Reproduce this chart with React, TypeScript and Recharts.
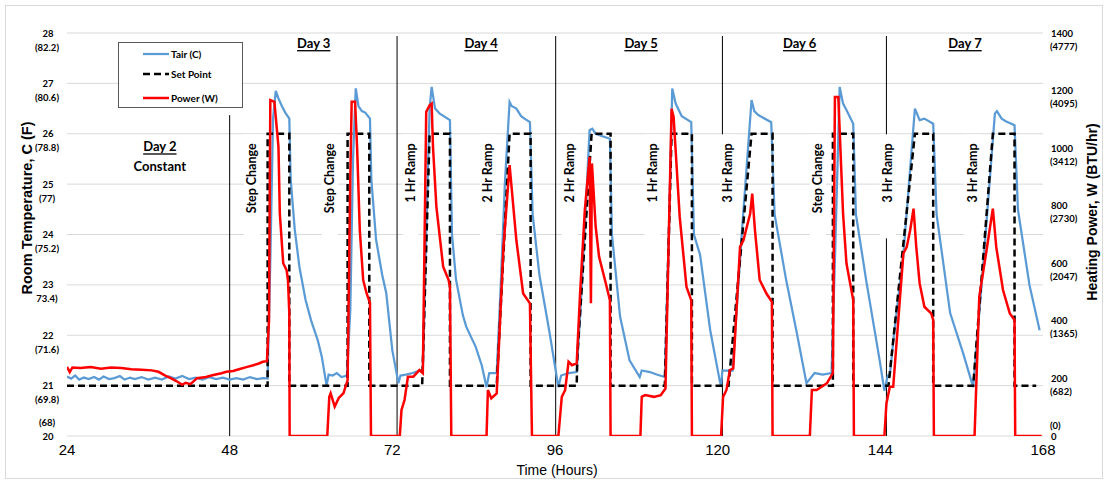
import React from 'react';
import { LineChart, Line, XAxis, YAxis, CartesianGrid, ReferenceLine, ReferenceDot, Legend } from 'recharts';

// ---------- ticks ----------
const hourTicks = [24, 48, 72, 96, 120, 144, 168];
const tempTicks = [20, 21, 22, 23, 24, 25, 26, 27, 28];
const tempTickF = ['(68)', '(69.8)', '(71.6)', '73.4)', '(75.2)', '(77)', '(78.8)', '(80.6)', '(82.2)'];
const powerTicks = [0, 200, 400, 600, 800, 1000, 1200, 1400];
const powerTickBtu = ['(0)', '(682)', '(1365)', '(2047)', '(2730)', '(3412)', '(4095)', '(4777)'];
const legendOrder = ['Tair (C)', 'Set Point', 'Power (W)'];

// ---------- annotations ----------
const dayBoundaries = [48, 72.7, 96.1, 120.7, 144.9];
const dayLineTops = [26.37, 27.94, 27.94, 27.94, 27.94];
const dayNames = ['Day 3', 'Day 4', 'Day 5', 'Day 6', 'Day 7'];
const dayNameHours = [60.4, 85.1, 108.7, 132.1, 156.5];
const eventNames = ['Step Change', 'Step Change', '1 Hr Ramp', '2 Hr Ramp', '2 Hr Ramp', '1 Hr Ramp', '3 Hr Ramp', 'Step Change', '3 Hr Ramp', '3 Hr Ramp'];
const eventHours = [51.3, 62.8, 74.7, 86.1, 98.2, 110.4, 121.5, 134.8, 145.1, 157.6];

// ---------- series: [hour, value] ----------
const setPointPts: [number, number][] = [
  [24, 21], [53.6, 21], [53.6, 26], [56.8, 26], [56.8, 21], [65.4, 21], [65.4, 26], [68.6, 26], [68.6, 21],
  [76.4, 21], [77.5, 26], [80.5, 26], [80.5, 21], [87.4, 21], [89.3, 26], [92.4, 26], [92.4, 21],
  [99.2, 21], [99.3, 21.6], [101.4, 26], [104.2, 26], [104.2, 21], [112.2, 21], [113.2, 26], [116.2, 26], [116.2, 21],
  [121.6, 21], [125.0, 26], [128.1, 26], [128.1, 21], [137.0, 21], [137.0, 26], [140.0, 26], [140.0, 21],
  [145.2, 21], [149.1, 26], [151.8, 26], [151.8, 21], [157.7, 21], [160.6, 26], [163.8, 26], [163.8, 21], [167.0, 21],
];

const tairPts: [number, number][] = [
  [24, 21.18], [24.6, 21.14], [25.2, 21.2], [25.8, 21.12], [26.5, 21.16], [27.2, 21.13], [28, 21.17], [28.7, 21.12],
  [29.4, 21.18], [30.2, 21.13], [31, 21.15], [31.8, 21.19], [32.5, 21.12], [33.3, 21.16], [34, 21.13], [35, 21.17],
  [36, 21.12], [37, 21.16], [38, 21.12], [39, 21.18], [40, 21.14], [41, 21.19], [42, 21.13], [43, 21.16], [44, 21.12],
  [45, 21.17], [46, 21.13], [47, 21.16], [48, 21.12], [49, 21.15], [50, 21.12], [51, 21.17], [52, 21.13], [53, 21.15],
  [53.6, 21.14], [54.0, 23.5], [54.4, 26.3], [54.8, 26.85], [55.2, 26.7], [55.7, 26.55], [56.2, 26.42], [56.8, 26.3],
  [57.0, 25.1], [57.6, 24.1], [58.3, 23.35], [59.2, 22.7], [60.0, 22.3], [61.0, 21.9], [61.6, 21.57], [62.3, 21.0],
  [62.6, 21.22], [63.2, 21.2], [63.8, 21.25], [64.5, 21.17], [65.3, 21.2], [65.8, 22.5], [66.2, 25.5], [66.6, 26.9],
  [67.0, 26.55], [67.5, 26.45], [68.0, 26.42], [68.7, 26.3], [68.9, 25.1], [69.6, 23.9], [70.5, 23.2], [71.1, 22.84],
  [72.0, 21.7], [72.9, 21.05], [73.2, 21.2], [74, 21.22], [75, 21.25], [76, 21.3], [76.5, 21.3], [77.0, 24],
  [77.5, 26.5], [77.8, 26.93], [78.3, 26.5], [79, 26.4], [80.5, 26.27], [80.8, 24.0], [81.4, 23.1], [82.4, 22.4],
  [82.9, 22.17], [84.3, 21.77], [85.2, 21.4], [85.9, 20.97], [86.3, 21.25], [87.4, 21.25], [88.0, 23.0], [88.6, 25.0],
  [89.3, 26.63], [89.6, 26.55], [90.3, 26.5], [91, 26.35], [91.5, 26.3], [92.3, 26.23], [92.7, 24.4], [93.7, 23.2],
  [95.2, 22.05], [96.5, 20.97], [96.9, 21.2], [98, 21.25], [99.2, 21.27], [99.8, 22.6], [100.5, 24.4], [101.1, 26.07],
  [101.5, 26.1], [102, 26.0], [103, 25.95], [104.1, 25.9], [104.4, 24.0], [105.6, 22.37], [107.0, 21.5], [108.5, 21.17],
  [108.8, 21.3], [110, 21.27], [111, 21.22], [112.2, 21.17], [112.8, 24], [113.3, 26.9], [113.8, 26.6], [114.7, 26.35],
  [116.1, 26.23], [116.5, 24.0], [117.4, 23.6], [118.9, 22.1], [120.3, 21.1], [120.5, 21.0], [120.7, 21.3], [122.2, 21.3],
  [123.6, 24.1], [125.0, 26.67], [125.4, 26.45], [126.0, 26.37], [127.9, 26.23], [128.4, 24.4], [130.1, 23.1],
  [131.6, 22.1], [133.1, 21.05], [134.3, 21.25], [135.5, 21.22], [136.8, 21.25], [137.3, 23.5], [138.0, 26.93],
  [138.5, 26.6], [139.0, 26.47], [140.0, 26.2], [140.4, 24.4], [141.9, 23.1], [143.9, 21.5], [144.6, 20.9], [145.1, 21.2],
  [145.4, 21.2], [146.0, 22.0], [147.4, 23.6], [149.1, 26.5], [149.8, 26.27], [150.5, 26.3], [151.8, 26.2], [152.3, 24.4],
  [154.3, 22.44], [156.2, 21.65], [157.7, 20.97], [159.2, 23.43], [160.9, 26.4], [161.2, 26.45], [161.9, 26.3],
  [162.5, 26.25], [163.8, 26.17], [164.3, 24.5], [166.0, 23.0], [167.5, 22.1],
];

const powerPts: [number, number][] = [
  [24, 240], [24.4, 222], [24.8, 238], [26, 236], [27.5, 240], [29, 234], [30.5, 238], [32, 236], [33.5, 232], [35, 230],
  [36.5, 228], [37.5, 223], [38.5, 210], [39.3, 201], [40.2, 190], [41.0, 178], [41.5, 185], [42.2, 180], [43.2, 201],
  [44.5, 205], [45.6, 212], [46.8, 218], [47.5, 223], [48.5, 226], [49.5, 233], [50.6, 240], [51.5, 246], [52.3, 252],
  [52.9, 258], [53.5, 260], [53.8, 400], [54.0, 1167], [54.6, 1161], [55.2, 1004], [55.4, 773], [55.9, 600], [56.4, 576],
  [56.6, 542], [56.8, 426], [56.85, 0], [62.4, 0], [62.7, 136], [62.9, 148], [63.5, 102], [64.1, 132], [64.8, 149],
  [65.4, 194], [65.8, 900], [66.0, 1161], [66.5, 1161], [66.8, 1004], [67.2, 715], [67.7, 542], [68.2, 496], [68.7, 462],
  [68.85, 0], [73.1, 0], [73.35, 90], [73.8, 125], [74.3, 206], [75.1, 206], [76.0, 229], [76.5, 218], [77.0, 1126],
  [77.5, 1149], [77.8, 1155], [78.0, 1004], [78.5, 796], [79.5, 588], [80.3, 542], [80.5, 518], [80.7, 0], [85.9, 0],
  [86.1, 160], [86.6, 131], [87.4, 148], [88.4, 657], [89.3, 941], [90.3, 680], [91.3, 495], [92.3, 461], [92.6, 0],
  [96.5, 0], [97.0, 136], [97.5, 160], [98.0, 258], [98.5, 246], [99.2, 252], [99.7, 495], [100.4, 785], [101.1, 970],
  [101.3, 461], [101.45, 947], [102.0, 727], [102.5, 623], [103.5, 530], [104.1, 472], [104.2, 0], [108.6, 0],
  [108.8, 136], [109.3, 142], [110.6, 136], [111.6, 142], [112.3, 165], [113.2, 1137], [113.5, 1108], [114.4, 761],
  [115.4, 518], [116.1, 472], [116.2, 0], [120.5, 0], [120.8, 136], [121.3, 160], [121.8, 229], [122.3, 235],
  [123.3, 657], [123.8, 680], [124.8, 773], [125.1, 842], [125.5, 715], [126.2, 542], [127.2, 495], [128.0, 466],
  [128.1, 0], [133.6, 0], [133.9, 160], [134.6, 160], [136.1, 183], [137.0, 218], [137.3, 1178], [137.8, 1178],
  [138.5, 773], [139.0, 600], [140.0, 472], [140.1, 0], [144.6, 0], [144.9, 113], [145.4, 171], [145.9, 171],
  [147.4, 634], [147.9, 657], [148.4, 715], [148.9, 790], [149.3, 657], [149.8, 530], [150.5, 449], [151.5, 426],
  [151.8, 403], [151.9, 0], [157.9, 0], [158.6, 484], [159.6, 634], [160.6, 790], [161.1, 657], [162.1, 507],
  [163.1, 426], [163.8, 403], [163.9, 0], [167.8, 0],
];

const toRows = (pts: [number, number][]) => pts.map(([h, v]) => ({ h, v }));
const setPointData = toRows(setPointPts);
const tairData = toRows(tairPts);
const powerData = toRows(powerPts);

const TICK_FONT = 'Lato, "Noto Sans", sans-serif';
const TITLE_FONT = '"Liberation Sans", Arial, sans-serif';

const LeftTick = (props: any) => {
  const { x, y, payload } = props;
  const i = tempTicks.indexOf(payload.value);
  const cx = x - 19;
  const style = { fontFamily: TICK_FONT, fontWeight: 700, fontSize: 9.5, fill: '#000' } as any;
  const subAbove = payload.value === 20;
  return (
    <g>
      <text x={cx} y={y} textAnchor="middle" dominantBaseline="central" style={style}>{String(payload.value)}</text>
      <text x={cx - 1} y={subAbove ? y - 14 : y + 14} textAnchor="middle" dominantBaseline="central" style={style}>{tempTickF[i]}</text>
    </g>
  );
};

const RightTick = (props: any) => {
  const { x, y, payload } = props;
  const i = powerTicks.indexOf(payload.value);
  const lx = x + 8;
  const style = { fontFamily: TICK_FONT, fontWeight: 700, fontSize: 9.5, fill: '#000' } as any;
  const subAbove = payload.value === 0;
  return (
    <g>
      <text x={lx} y={y} textAnchor="start" dominantBaseline="central" style={style}>{String(payload.value)}</text>
      <text x={lx - 1} y={subAbove ? y - 11 : y + 13} textAnchor="start" dominantBaseline="central" style={style}>{powerTickBtu[i]}</text>
    </g>
  );
};

const XTick = (props: any) => {
  const { x, y, payload } = props;
  return (
    <text x={x} y={y + 13} textAnchor="middle" dominantBaseline="central"
      style={{ fontFamily: TITLE_FONT, fontSize: 15, fill: '#000' }}>{String(payload.value)}</text>
  );
};

const leftTitle = (p: any) => {
  const vb = p.viewBox;
  const cx = vb.x + 27;
  const cy = vb.y + 175;
  return (
    <text x={cx} y={cy} transform={`rotate(-90 ${cx} ${cy})`} textAnchor="middle" dominantBaseline="central"
      style={{ fontFamily: TITLE_FONT, fontSize: 14.5, fontWeight: 700, fill: '#000' }}>Room Temperature, C (F)</text>
  );
};

const rightTitle = (p: any) => {
  const vb = p.viewBox;
  const cx = vb.x + 49;
  const cy = vb.y + 179;
  return (
    <text x={cx} y={cy} transform={`rotate(-90 ${cx} ${cy})`} textAnchor="middle" dominantBaseline="central"
      style={{ fontFamily: TITLE_FONT, fontSize: 14, fontWeight: 700, fill: '#000' }}>Heating Power, W (BTU/hr)</text>
  );
};

const bottomTitle = (p: any) => {
  const vb = p.viewBox;
  return (
    <text x={vb.x + vb.width / 2 + 2} y={vb.y + 34} textAnchor="middle" dominantBaseline="central"
      style={{ fontFamily: TITLE_FONT, fontSize: 14, fill: '#000' }}>Time (Hours)</text>
  );
};

const eventShape = (text: string) => (p: any) => {
  const { cx, cy } = p;
  return (
    <g>
      <rect x={cx - 8} y={cy - 9} width={16} height={104} fill="#fff" />
      <text x={cx} y={cy} dy="0.35em" transform={`rotate(-90 ${cx} ${cy})`} textAnchor="end"
        style={{ fontFamily: TICK_FONT, fontWeight: 700, fontSize: 12.5, fill: '#000' }}>{text}</text>
    </g>
  );
};

const dayShape = (text: string) => (p: any) => (
  <text x={p.cx} y={p.cy} textAnchor="middle" dominantBaseline="central"
    style={{ fontFamily: TICK_FONT, fontWeight: 700, fontSize: 13, fill: '#000', textDecoration: 'underline' }}>{text}</text>
);

const plainShape = (text: string, underline: boolean) => (p: any) => (
  <text x={p.cx} y={p.cy} textAnchor="middle" dominantBaseline="central"
    style={{ fontFamily: TICK_FONT, fontWeight: 700, fontSize: 13, fill: '#000', textDecoration: underline ? 'underline' : 'none' }}>{text}</text>
);

const LegendBox = (props: any) => {
  const payload = [...(props.payload || [])].sort(
    (a: any, b: any) => legendOrder.indexOf(a.value) - legendOrder.indexOf(b.value));
  const rowY = [11, 31, 55];
  return (
    <div style={{ position: 'relative', width: 125, height: 66, border: '1px solid #595959', boxSizing: 'border-box', background: '#fff' }}>
      {payload.map((e: any, i: number) => (
        <div key={i} style={{ position: 'absolute', left: 0, top: rowY[i] - 8, height: 16, width: 123 }}>
          <svg width={30} height={16} style={{ position: 'absolute', left: 24, top: 0 }}>
            <line x1={0} y1={8} x2={26} y2={8} stroke={e.color}
              strokeWidth={e.payload?.strokeWidth ?? 2}
              strokeDasharray={e.payload?.strokeDasharray} />
          </svg>
          <span style={{ position: 'absolute', left: 52, top: 0, lineHeight: '16px', fontFamily: TICK_FONT, fontWeight: 700, fontSize: 10, color: '#000', whiteSpace: 'nowrap' }}>{e.value}</span>
        </div>
      ))}
    </div>
  );
};

export default function App() {
  return (
    <div style={{ position: 'absolute', left: 0, top: 0, width: 1109, height: 485, background: '#fff' }}>
      <div style={{ position: 'absolute', left: 5, top: 5, width: 1098, height: 474, border: '1px solid #d9d9d9', boxSizing: 'border-box' }} />
      <div style={{ position: 'absolute', left: 0, top: 0 }}>
        <LineChart width={1109} height={485} margin={{ top: 33, right: 0, bottom: 0, left: 0 }}>
          <CartesianGrid vertical={false} stroke="#d9d9d9" yAxisId="t" />
          <XAxis dataKey="h" type="number" domain={[24, 168]} ticks={hourTicks} interval={0} height={49}
            axisLine={false} tickLine={false} tickSize={0} tickMargin={0} tick={XTick} label={bottomTitle} allowDataOverflow />
          <YAxis yAxisId="t" domain={[20, 28]} ticks={tempTicks} interval={0} width={67} axisLine={false}
            tickLine={false} tickSize={0} tickMargin={0} tick={LeftTick} label={leftTitle} allowDataOverflow />
          <YAxis yAxisId="p" orientation="right" domain={[0, 1400]} ticks={powerTicks} interval={0} width={66}
            axisLine={false} tickLine={false} tickSize={0} tickMargin={0} tick={RightTick} label={rightTitle} allowDataOverflow />
          {dayBoundaries.map((h, i) => (
            <ReferenceLine key={'d' + h} yAxisId="t" segment={[{ x: h, y: dayLineTops[i] }, { x: h, y: 20 }]}
              stroke="#000" strokeWidth={1} />
          ))}
          <Line yAxisId="t" data={tairData} dataKey="v" name="Tair (C)" type="linear" stroke="#5B9BD5"
            strokeWidth={2.25} dot={false} isAnimationActive={false} />
          <Line yAxisId="t" data={setPointData} dataKey="v" name="Set Point" type="linear" stroke="#000"
            strokeWidth={2.5} strokeDasharray="7 4" dot={false} isAnimationActive={false} />
          <Line yAxisId="p" data={powerData} dataKey="v" name="Power (W)" type="linear" stroke="#FF0000"
            strokeWidth={2.5} dot={false} isAnimationActive={false} />
          {eventHours.map((h, i) => (
            <ReferenceDot key={'e' + i} yAxisId="t" x={h} y={25.81} r={0} shape={eventShape(eventNames[i])} />
          ))}
          {dayNameHours.map((h, i) => (
            <ReferenceDot key={'n' + i} yAxisId="t" x={h} y={27.8} r={0} shape={dayShape(dayNames[i])} />
          ))}
          <ReferenceDot yAxisId="t" x={37.7} y={25.75} r={0} shape={plainShape('Day 2', true)} />
          <ReferenceDot yAxisId="t" x={37.7} y={25.36} r={0} shape={plainShape('Constant', false)} />
          <Legend layout="vertical" align="center" verticalAlign="middle" content={LegendBox}
            wrapperStyle={{ left: 118, top: 42, width: 125, height: 66 }} />
        </LineChart>
      </div>
    </div>
  );
}
